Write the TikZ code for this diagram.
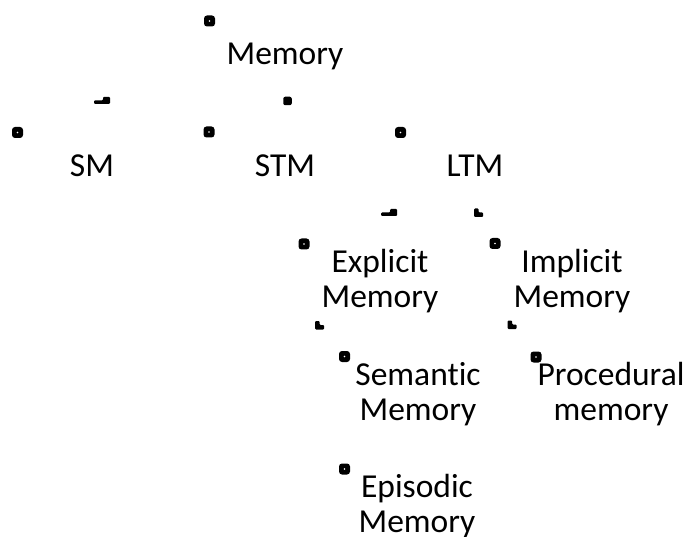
\documentclass[tikz,border=0pt]{standalone}
\usepackage{fontspec}
\setmainfont[Ligatures=NoCommon]{Carlito}
\begin{document}
\begin{tikzpicture}[x=1pt,y=-1pt,
  lbl/.style={font=\fontsize{33.5}{35}\selectfont, align=center, inner sep=0pt, anchor=base},
  dotsq/.style={fill=black, rounded corners=3pt, minimum size=11pt, inner sep=0pt,
    path picture={\fill[white] (path picture bounding box.center) circle (0.9pt);}},
  solidsq/.style={fill=black, rounded corners=2pt, minimum size=8.5pt, inner sep=0pt},
  cornA/.pic={\fill[rounded corners=1pt] (0,3.5)--(9,3.5)--(9,0)--(16,0)--(16,7)--(0,7)--cycle;},
  cornB/.pic={\fill[rounded corners=1pt] (0,0)--(4.5,0)--(4.5,4)--(9,4)--(9,8.5)--(0,8.5)--cycle;}
]
\useasboundingbox (0,0) rectangle (685,537);
% text nodes (multi-line nodes are anchored at the baseline of their last line)
\node[lbl] (memory) at (285,65) {Memory};
\node[lbl] (sm) at (92,177) {SM};
\node[lbl] (stm) at (285,177) {STM};
\node[lbl] (ltm) at (475,177) {LTM};
\node[lbl] (expl) at (380,307) {Explicit\\Memory};
\node[lbl] (impl) at (572,307) {Implicit\\Memory};
\node[lbl] (sem) at (418,420) {Semantic\\Memory};
\node[lbl] (proc) at (611,420) {Procedural\\memory};
\node[lbl] (epi) at (417,532) {Episodic\\Memory};
% dotted squares
\node[dotsq] (d1) at (209.5,21) {};
\node[dotsq] (d2) at (17.5,132.5) {};
\node[dotsq] (d3) at (209,132) {};
\node[dotsq] (d4) at (400.5,132.5) {};
\node[dotsq] (d5) at (304,244) {};
\node[dotsq] (d6) at (495,243.5) {};
\node[dotsq] (d7) at (344.5,356.5) {};
\node[dotsq] (d8) at (536,357) {};
\node[dotsq] (d9) at (344.5,469) {};
% solid square
\node[solidsq] (s1) at (287.5,101) {};
% corner marks
\pic at (94,97) {cornA};
\pic at (381,209) {cornA};
\pic at (474,208.5) {cornB};
\pic at (315,321) {cornB};
\pic at (507.5,320.5) {cornB};
\end{tikzpicture}
\end{document}
